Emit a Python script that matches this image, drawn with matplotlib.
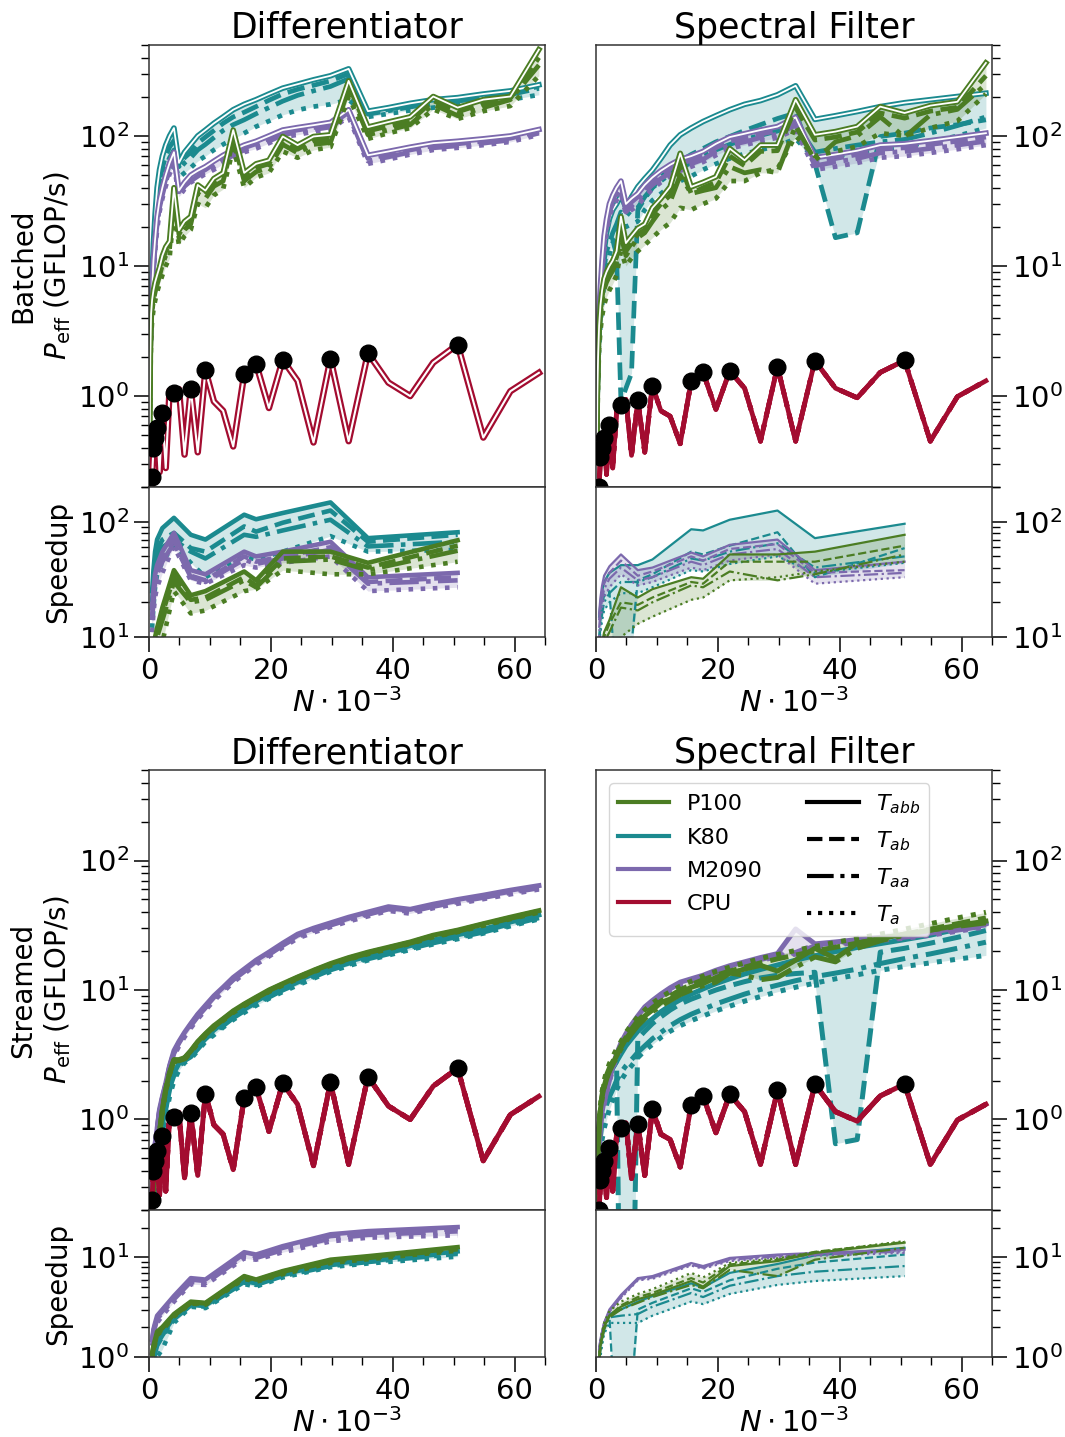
import numpy as np
import matplotlib.pyplot as plt
from matplotlib.lines import Line2D
from matplotlib.ticker import LogLocator, NullFormatter, MultipleLocator

# problem size N*10^-3 (N = n^3 for n = 4..40)
n_k = [0.064, 0.125, 0.216, 0.343, 0.512, 0.729, 1.0, 1.331, 1.728, 2.197, 2.744, 3.375,
       4.096, 4.913, 5.832, 6.859, 8.0, 9.261, 10.648, 12.167, 13.824, 15.625, 17.576,
       19.683, 21.952, 24.389, 27.0, 29.791, 32.768, 35.937, 39.304, 42.875, 46.656,
       50.653, 54.872, 59.319, 64.0]
# sizes marked with black dots (speedup is evaluated there)
best_k = [0.512, 0.729, 1.0, 1.331, 2.197, 4.096, 6.859, 9.261, 15.625, 17.576,
          21.952, 29.791, 35.937, 50.653]

# CPU performance (GFLOP/s)
cpu_diff = [0.05, 0.08, 0.12, 0.17, 0.24, 0.40, 0.48, 0.57, 0.26, 0.74, 0.28, 1.10, 1.05,
            1.13, 0.355, 1.13, 0.37, 1.58, 0.91, 0.77, 0.41, 1.47, 1.77, 0.81, 1.90, 1.31,
            0.44, 1.94, 0.45, 2.14, 1.27, 1.00, 1.81, 2.49, 0.48, 1.09, 1.51]
cpu_spec = [0.04, 0.07, 0.11, 0.15, 0.20, 0.34, 0.40, 0.48, 0.25, 0.60, 0.28, 0.75, 0.86,
            0.94, 0.35, 0.93, 0.37, 1.20, 0.77, 0.70, 0.43, 1.30, 1.52, 0.79, 1.56, 1.15,
            0.45, 1.68, 0.45, 1.87, 1.15, 0.97, 1.52, 1.88, 0.45, 0.99, 1.31]

# ---- batched, differentiator ----
tl_k80_abb = [1.0, 2.0, 3.0, 4.5, 8.5, 15, 25, 40, 55, 70, 85, 100, 115, 62, 75, 86, 100, 111, 125,
              140, 159, 175, 190, 210, 233, 250, 270, 290, 328, 155, 165, 178, 190, 197, 210, 222, 247]
tl_k80_ab = [0.9, 1.8, 2.7, 4.0, 7.5, 13, 21, 33, 45, 57, 70, 82, 92, 58, 68, 75, 88, 98, 110,
             125, 140, 152, 168, 188, 210, 228, 245, 265, 300, 150, 160, 172, 183, 190, 203, 215, 240]
tl_k80_aa = [0.8, 1.6, 2.4, 3.6, 6.5, 11, 18, 28, 38, 48, 58, 68, 78, 55, 62, 68, 78, 86, 97,
             110, 122, 133, 148, 165, 185, 205, 222, 240, 275, 147, 156, 167, 178, 185, 197, 208, 232]
tl_k80_a = [0.7, 1.4, 2.0, 3.0, 5.5, 9, 14, 22, 30, 38, 46, 54, 62, 48, 52, 57, 64, 70, 78,
            86, 95, 105, 118, 130, 145, 158, 168, 175, 190, 140, 148, 157, 165, 172, 182, 190, 207]
tl_m2090_abb = [0.8, 1.6, 2.5, 4.0, 6.5, 11, 16, 24, 32, 40, 50, 62, 75, 38, 44, 50, 54, 58, 64,
                71, 78, 85, 91, 100, 111, 116, 121, 127, 159, 71, 76, 82, 88, 91, 95, 100, 112]
tl_m2090_ab = [0.75, 1.5, 2.3, 3.7, 6.0, 10, 15, 22, 30, 37, 47, 58, 70, 36, 42, 47, 51, 55, 61,
               67, 74, 81, 87, 95, 106, 111, 116, 121, 152, 67, 72, 78, 84, 87, 91, 96, 108]
tl_m2090_aa = [0.7, 1.4, 2.2, 3.5, 5.5, 9.3, 14, 21, 28, 35, 44, 55, 66, 35, 41, 45, 49, 53, 58,
               64, 71, 78, 84, 91, 102, 107, 112, 117, 146, 64, 69, 75, 81, 84, 88, 93, 105]
tl_m2090_a = [0.6, 1.2, 2.0, 3.1, 5.0, 8.5, 13, 19, 26, 33, 41, 51, 60, 34, 39, 44, 47, 51, 55,
              61, 68, 75, 80, 88, 98, 102, 108, 113, 140, 61, 66, 72, 78, 81, 85, 90, 102]
tl_p100_abb = [0.1, 0.5, 2.0, 4.3, 5.5, 6.5, 7.5, 8.5, 9.8, 12, 14, 15.5, 40, 18.8, 22, 24, 42, 38,
               47, 52, 111, 52, 61, 65, 99, 85, 99, 102, 265, 117, 128, 140, 201, 165, 190, 201, 461]
tl_p100_ab = [0.08, 0.4, 1.8, 3.9, 4.9, 5.9, 6.8, 7.8, 9.0, 11, 13, 14.5, 36, 17.5, 20.5, 22.5, 39,
              35, 44, 48, 100, 48, 57, 61, 92, 79, 92, 95, 245, 109, 119, 130, 187, 153, 177, 195, 400]
tl_p100_aa = [0.07, 0.35, 1.6, 3.5, 4.5, 5.4, 6.3, 7.2, 8.4, 10.2, 12, 13.5, 33, 16.4, 19, 21, 36,
              33, 41, 45, 93, 45, 53, 57, 86, 74, 86, 89, 230, 102, 111, 122, 175, 143, 165, 190, 350]
tl_p100_a = [0.05, 0.25, 1.2, 2.8, 3.8, 4.6, 5.4, 6.3, 7.3, 8.5, 10, 11.5, 27, 14.5, 17, 19, 30,
             28, 35, 39, 80, 40, 48, 52, 76, 68, 78, 82, 200, 95, 105, 115, 160, 135, 155, 170, 290]

# ---- batched, spectral filter ----
tr_k80_abb = [0.1, 0.4, 1.2, 2.2, 3.5, 5.5, 8.5, 13, 18, 23, 27, 30, 35, 28, 34, 40.6, 47, 54.6,
              67, 85, 102, 115, 129, 143, 159, 175, 187, 207, 243, 134, 143, 154, 168, 180, 190, 201, 213]
tr_k80_ab = [0.08, 0.3, 1.0, 1.8, 3.0, 4.5, 7, 11, 14, 15, 16, 12, 0.9, 1.15, 1.5, 27, 33, 40,
             48, 56, 64, 72, 80, 90, 99, 110, 122, 136, 150, 61, 16.5, 18, 99, 105, 115, 122, 133]
tr_k80_aa = [0.08, 0.3, 0.9, 1.8, 2.8, 4.3, 6.5, 9.5, 13, 15, 18, 21, 26, 24, 27, 28, 34, 40,
             45, 51, 57, 62, 70, 78, 86, 94, 101, 109, 125, 75, 80, 85, 90, 94, 105, 120, 140]
tr_k80_a = [0.06, 0.25, 0.7, 1.5, 2.4, 3.5, 5, 7.5, 10, 12, 15, 18, 21, 20, 21, 22, 27, 32,
            36, 41, 45, 49, 55, 61, 67, 73, 78, 84, 95, 67, 70, 74, 79, 83, 90, 100, 115]
tr_m2090_abb = [0.1, 0.5, 1.5, 2.7, 4.5, 7, 11, 17, 23, 30, 35, 40, 45, 30, 33, 36, 42, 48, 54,
                60, 66, 70, 76, 87, 98, 104, 111, 118, 139, 68, 72, 77, 85, 87, 92, 98, 105]
tr_m2090_ab = [0.09, 0.45, 1.4, 2.5, 4.2, 6.5, 10, 15.5, 21, 27.5, 32, 37, 42, 28, 31, 34, 39, 45,
               50, 56, 61, 65, 71, 81, 91, 97, 103, 110, 130, 63, 67, 72, 79, 81, 86, 91, 98]
tr_m2090_aa = [0.09, 0.42, 1.3, 2.3, 3.9, 6.1, 9.5, 14.5, 20, 26, 30, 35, 39, 26, 29, 32, 37, 42,
               47, 52, 57, 61, 66, 76, 85, 90, 97, 103, 121, 59, 63, 67, 74, 76, 80, 85, 91]
tr_m2090_a = [0.08, 0.4, 1.2, 2.2, 3.6, 5.5, 8.5, 13, 18, 24, 28, 32, 36, 25, 27, 29, 34, 39,
              44, 49, 54, 58, 63, 71, 80, 85, 91, 97, 112, 55, 58, 62, 68, 70, 74, 79, 85]
tr_p100_abb = [0.1, 0.3, 1.0, 2.0, 3.5, 5, 6.5, 8, 9, 10, 11, 13, 24, 15, 17, 19.5, 21, 28, 33,
               40.6, 73.5, 40.6, 44, 48.5, 80, 65, 85, 85, 190, 102, 108, 118, 168, 150, 171, 183, 364]
tr_p100_ab = [0.09, 0.27, 0.9, 1.8, 3.2, 4.5, 5.8, 7.2, 8.1, 9, 10, 11.7, 20, 13, 15, 17.5, 19, 25,
              30, 35, 60, 36, 40, 44, 70, 59, 76, 77, 165, 93, 98, 107, 150, 137, 155, 166, 290]
tr_p100_aa = [0.08, 0.25, 0.8, 1.6, 2.9, 4.2, 5.4, 6.6, 7.5, 8.3, 9.2, 10.8, 17, 12, 14, 16.5, 18,
              22, 27, 31, 50, 36, 38, 40, 58, 52, 55, 52, 120, 65, 90, 100, 140, 98, 145, 160, 250]
tr_p100_a = [0.05, 0.2, 0.6, 1.3, 2.3, 3.2, 4.1, 5, 5.8, 6.5, 7.3, 8.5, 13, 10, 11.5, 13, 14.5,
             16.5, 19, 21.5, 28, 27, 30, 33, 45, 45, 52, 56, 100, 70, 76, 83, 105, 100, 115, 130, 210]

# ---- streamed, differentiator ----
bl_k80_abb = [0.01, 0.03, 0.06, 0.12, 0.2, 0.3, 0.4, 0.5, 0.6, 0.9, 1.3, 1.8, 2.3, 2.7, 3.0, 3.2,
              3.7, 4.3, 4.9, 5.6, 6.4, 7.3, 8.2, 9.3, 10.5, 11.8, 13.3, 15, 16.6, 18.3, 20, 22,
              24.3, 26.7, 29.5, 33.5, 38]
bl_k80_ab = [0.01, 0.03, 0.06, 0.11, 0.19, 0.29, 0.38, 0.48, 0.58, 0.87, 1.25, 1.75, 2.2, 2.6,
             2.9, 3.1, 3.6, 4.2, 4.8, 5.4, 6.2, 7.1, 8.0, 9.0, 10.2, 11.5, 12.9, 14.6, 16.1, 17.8,
             19.4, 21.4, 23.6, 25.9, 28.6, 32.5, 37]
bl_k80_aa = [0.01, 0.02, 0.05, 0.1, 0.18, 0.27, 0.36, 0.45, 0.55, 0.82, 1.2, 1.7, 2.15, 2.55,
             2.85, 3.05, 3.5, 4.1, 4.65, 5.3, 6.1, 6.9, 7.8, 8.8, 10, 11.2, 12.6, 14.3, 15.8, 17.4,
             19, 20.9, 23.1, 25.4, 28, 31.8, 36.1]
bl_k80_a = [0.01, 0.02, 0.04, 0.08, 0.14, 0.2, 0.28, 0.36, 0.45, 0.7, 1.05, 1.5, 2.0, 2.4, 2.75,
            2.95, 3.4, 4.0, 4.5, 5.15, 5.9, 6.7, 7.6, 8.6, 9.7, 10.9, 12.3, 13.9, 15.4, 17, 18.6,
            20.5, 22.6, 24.8, 27.4, 31.2, 35.3]
bl_m2090_abb = [0.02, 0.05, 0.1, 0.18, 0.3, 0.45, 0.65, 0.85, 1.2, 1.5, 1.9, 2.6, 3.4, 4.0, 4.7,
                5.5, 6.5, 7.6, 9.0, 10.5, 12.5, 14.5, 17, 19.6, 23, 27, 30, 33, 36.5, 40, 44, 42,
                46, 50, 54, 59, 64]
bl_m2090_ab = [0.02, 0.05, 0.1, 0.17, 0.29, 0.44, 0.63, 0.83, 1.17, 1.47, 1.86, 2.55, 3.3, 3.9,
               4.6, 5.4, 6.4, 7.4, 8.8, 10.3, 12.2, 14.2, 16.7, 19.2, 22.5, 26.5, 29.4, 32.3, 35.8,
               39.2, 43.1, 41.2, 45.1, 49, 52.9, 57.8, 62.7]
bl_m2090_aa = [0.02, 0.05, 0.1, 0.17, 0.29, 0.43, 0.62, 0.82, 1.15, 1.44, 1.82, 2.5, 3.25, 3.85,
               4.5, 5.3, 6.25, 7.3, 8.6, 10.1, 12, 13.9, 16.3, 18.8, 22.1, 25.9, 28.8, 31.7, 35,
               38.4, 42.2, 40.3, 44.2, 48, 51.8, 56.6, 61.4]
bl_m2090_a = [0.02, 0.04, 0.09, 0.16, 0.27, 0.41, 0.59, 0.78, 1.1, 1.38, 1.75, 2.4, 3.1, 3.7,
              4.35, 5.1, 6.0, 7.0, 8.3, 9.7, 11.5, 13.4, 15.8, 18.2, 21.4, 25.1, 27.9, 30.7, 34,
              37.2, 41, 39, 43, 46.5, 50.5, 55, 60]
bl_p100_abb = [0.02, 0.04, 0.08, 0.15, 0.22, 0.3, 0.4, 0.55, 0.8, 1.2, 1.7, 2.3, 2.9, 2.9, 3.0,
               3.4, 4.0, 4.6, 5.3, 6.0, 6.9, 7.8, 8.8, 10, 11.2, 12.6, 14.2, 16, 17.8, 19.6, 21.4,
               23.5, 26.5, 29, 32.5, 36.5, 41]
bl_p100_ab = [0.02, 0.04, 0.08, 0.15, 0.22, 0.3, 0.4, 0.54, 0.79, 1.19, 1.68, 2.28, 2.87, 2.87,
              2.97, 3.37, 3.96, 4.55, 5.25, 5.94, 6.83, 7.72, 8.7, 9.9, 11.1, 12.5, 14.1, 15.8,
              17.6, 19.4, 21.2, 23.3, 26.2, 28.7, 32.2, 36.1, 40.6]
bl_p100_aa = [0.02, 0.04, 0.08, 0.15, 0.22, 0.29, 0.39, 0.54, 0.78, 1.18, 1.67, 2.25, 2.84, 2.84,
              2.94, 3.33, 3.92, 4.5, 5.2, 5.9, 6.76, 7.64, 8.62, 9.8, 11, 12.3, 13.9, 15.7, 17.4,
              19.2, 21, 23, 26, 28.4, 31.9, 35.8, 40.2]
bl_p100_a = [0.02, 0.04, 0.08, 0.14, 0.21, 0.29, 0.39, 0.53, 0.77, 1.16, 1.65, 2.23, 2.81, 2.81,
             2.91, 3.3, 3.88, 4.46, 5.14, 5.82, 6.7, 7.57, 8.54, 9.7, 10.9, 12.2, 13.8, 15.5,
             17.3, 19, 20.8, 22.8, 25.7, 28.1, 31.5, 35.4, 39.8]

# ---- streamed, spectral filter ----
br_k80_abb = [0.04, 0.1, 0.25, 0.5, 0.8, 1.1, 1.35, 1.6, 1.9, 2.2, 2.5, 2.8, 3.2, 3.7, 4.2, 4.8,
              5.4, 6.0, 6.8, 7.6, 8.4, 9.3, 10.2, 11.2, 12.2, 13.3, 14.4, 15.6, 17, 18.4, 19.8,
              21.3, 22.8, 24.5, 26.5, 29.5, 33]
br_k80_ab = [0.05, 0.12, 0.3, 0.55, 0.85, 1.1, 1.4, 1.65, 1.9, 2.2, 2.5, 2.8, 0.005, 0.005, 0.005,
             4.2, 4.8, 5.5, 6.2, 7.0, 7.8, 8.5, 9.2, 10, 10.8, 11.6, 12.4, 13, 13.4, 13.7, 0.65,
             0.7, 19.6, 21, 23, 25.5, 28.8]
br_k80_aa = [0.03, 0.07, 0.18, 0.35, 0.55, 0.75, 0.95, 1.1, 1.3, 1.5, 1.7, 2.0, 2.3, 2.6, 2.9,
             3.3, 3.7, 4.2, 4.7, 5.3, 5.9, 6.5, 7.1, 7.8, 8.5, 9.3, 10.1, 10.9, 11.8, 12.7, 13.5,
             14.5, 16, 17.5, 19, 21, 23.4]
br_k80_a = [0.02, 0.05, 0.12, 0.25, 0.4, 0.55, 0.7, 0.85, 1.0, 1.2, 1.4, 1.7, 2.0, 2.3, 2.6,
            3.0, 3.4, 3.8, 4.3, 4.8, 5.3, 5.8, 6.3, 6.9, 7.5, 8.2, 8.9, 9.7, 10.5, 11.3, 12.2,
            13.1, 14.2, 15.2, 16.2, 17.3, 18.5]
br_m2090_abb = [0.03, 0.08, 0.2, 0.4, 0.65, 0.9, 1.15, 1.4, 1.7, 2.1, 2.6, 3.2, 3.9, 4.6, 5.4,
                6.3, 7.4, 8.3, 9.3, 10.4, 11.5, 12.2, 13, 14.2, 15.4, 16.5, 17.8, 19.1, 29.6,
                22.7, 23.5, 24.5, 25.5, 26.5, 28, 30, 32.4]
br_m2090_ab = [0.03, 0.08, 0.19, 0.39, 0.63, 0.88, 1.12, 1.37, 1.66, 2.05, 2.55, 3.1, 3.8, 4.5,
               5.3, 6.2, 7.2, 8.1, 9.1, 10.2, 11.3, 12, 12.8, 14, 15.1, 16.2, 17.5, 18.8, 19.5,
               22.3, 23.1, 24.1, 25.1, 26.1, 27.5, 29.5, 31.9]
br_m2090_aa = [0.03, 0.08, 0.19, 0.38, 0.62, 0.86, 1.1, 1.34, 1.63, 2.0, 2.5, 3.05, 3.7, 4.4,
               5.2, 6.1, 7.1, 7.9, 8.9, 10, 11.1, 11.8, 12.6, 13.7, 14.8, 15.9, 17.2, 18.4, 19.2,
               21.9, 22.7, 23.6, 24.6, 25.6, 27, 29, 31.3]
br_m2090_a = [0.03, 0.07, 0.18, 0.37, 0.6, 0.84, 1.08, 1.3, 1.6, 1.97, 2.45, 3.0, 3.65, 4.3, 5.1,
              5.95, 6.95, 7.8, 8.7, 9.8, 10.9, 11.6, 12.4, 13.5, 14.6, 15.6, 16.9, 18.1, 18.9,
              21.5, 22.3, 23.2, 24.2, 25.1, 26.5, 28.4, 30.7]
br_p100_abb = [0.05, 0.12, 0.3, 0.6, 0.9, 1.2, 1.5, 1.8, 2.1, 2.4, 2.7, 3.1, 3.6, 4.2, 4.8, 5.6,
               6.3, 7.0, 8.0, 8.5, 9.5, 10.5, 11.2, 12.5, 13.5, 14.5, 15.5, 14, 17, 21, 17.5, 23,
               25, 27, 29, 31.5, 34]
br_p100_ab = [0.05, 0.12, 0.3, 0.6, 0.95, 1.25, 1.55, 1.9, 2.2, 2.5, 2.8, 3.2, 3.7, 4.3, 5.0,
              5.8, 6.5, 7.3, 8.2, 9.0, 10.0, 11.0, 12.0, 13.0, 14.0, 15.0, 16.2, 17.4, 18.6, 20,
              21.4, 23, 25, 27, 29.5, 32.5, 36]
br_p100_aa = [0.04, 0.11, 0.28, 0.55, 0.85, 1.15, 1.45, 1.75, 2.05, 2.35, 2.65, 3.0, 3.5, 4.0,
              4.6, 5.3, 6.0, 6.8, 7.5, 8.3, 9.2, 10.0, 10.8, 11.5, 13.5, 13.0, 12.0, 12.5, 15, 18,
              16.5, 21, 24, 26.5, 29, 31, 33]
br_p100_a = [0.06, 0.14, 0.35, 0.65, 1.0, 1.3, 1.65, 2.0, 2.35, 2.7, 3.05, 3.5, 4.0, 4.7, 5.4,
             6.2, 7.0, 7.9, 8.8, 9.7, 10.7, 11.7, 12.8, 13.9, 15.0, 16.2, 17.5, 18.8, 20.2, 21.7,
             23.3, 25, 27, 29.5, 32.5, 36, 39.8]

# ---- speedups at the dotted sizes ----
su_tl_k80_abb = [25, 38, 55, 70, 88, 108, 77, 70, 115, 105, 119, 147, 72, 81]
su_tl_k80_ab = [20, 30, 44, 56, 70, 80, 59, 55, 91, 82, 98, 125, 67, 77]
su_tl_k80_aa = [17, 26, 38, 48, 60, 70, 55, 48, 77, 74, 84, 104, 61, 67]
su_tl_k80_a = [12, 18, 27, 35, 45, 63, 44, 33, 50, 47, 55, 75, 55, 57]
su_tl_m2090_abb = [18, 26, 35, 42, 55, 80, 38, 35, 55, 50, 55, 67, 33, 36]
su_tl_m2090_ab = [15, 22, 30, 37, 48, 70, 34, 31, 50, 45, 50, 60, 30, 33]
su_tl_m2090_aa = [14, 20, 28, 35, 45, 65, 33, 30, 47, 43, 48, 57, 29, 31]
su_tl_m2090_a = [11, 16, 22, 27, 36, 61, 31, 29, 42, 40, 44, 50, 25, 27]
su_tl_p100_abb = [5, 7, 10, 12, 18, 38, 23, 25, 37, 31, 55, 55, 44, 69]
su_tl_p100_ab = [4.5, 6.5, 9, 11, 16, 33, 21, 22, 33, 28, 48, 50, 40, 62]
su_tl_p100_aa = [4, 6, 8, 10, 14, 30, 20, 21, 31, 27, 45, 47, 38, 56]
su_tl_p100_a = [3, 4, 5, 6, 9, 25, 16, 17, 25, 26, 38, 35, 35, 45]

su_tr_k80_abb = [15, 20, 25, 30, 36, 42, 42, 47, 86, 84, 104, 125, 72, 96]
su_tr_k80_ab = [10, 14, 19, 23, 25, 1.0, 31, 35, 55, 52, 62, 81, 33, 59]
su_tr_k80_aa = [9, 12, 16, 20, 24, 30, 30, 33, 48, 46, 55, 65, 40, 50]
su_tr_k80_a = [8, 11, 14, 17, 20, 24, 24, 27, 38, 37, 43, 50, 36, 44]
su_tr_m2090_abb = [16, 22, 28, 34, 41, 52, 38, 40, 54, 50, 63, 70, 38, 45]
su_tr_m2090_ab = [14, 19, 24, 29, 36, 46, 34, 37, 50, 46, 58, 64, 36, 38]
su_tr_m2090_aa = [12, 17, 21, 26, 32, 40, 31, 33, 45, 42, 52, 58, 33, 36]
su_tr_m2090_a = [10, 14, 18, 22, 27, 35, 28, 30, 40, 38, 46, 52, 29, 33]
su_tr_p100_abb = [5, 7, 9, 11, 14, 27, 22, 26, 33, 32, 52, 52, 55, 77]
su_tr_p100_ab = [4.5, 6, 8, 10, 13, 20, 19, 22, 30, 29, 45, 45, 45, 62]
su_tr_p100_aa = [4, 5.5, 7, 9, 11, 18, 17, 20, 28, 27, 37, 31, 35, 52]
su_tr_p100_a = [2, 3, 4, 5, 7, 10, 13, 15, 21, 22, 31, 33, 37, 45]

su_bl_k80_abb = [0.9, 1.0, 1.2, 1.4, 1.7, 2.5, 3.4, 3.3, 5.8, 5.5, 6.8, 8.6, 9.4, 11.5]
su_bl_k80_ab = [0.85, 0.95, 1.15, 1.35, 1.65, 2.45, 3.35, 3.25, 5.7, 5.4, 6.7, 8.4, 9.2, 11.2]
su_bl_k80_aa = [0.8, 0.9, 1.1, 1.3, 1.6, 2.4, 3.3, 3.2, 5.6, 5.3, 6.5, 8.2, 9.0, 10.9]
su_bl_k80_a = [0.6, 0.7, 0.8, 1.0, 1.2, 2.2, 3.2, 3.1, 5.4, 5.1, 6.3, 8.0, 8.7, 10.2]
su_bl_m2090_abb = [1.5, 1.9, 2.2, 2.6, 3.0, 4.1, 6.2, 6.0, 11.3, 10.7, 13, 17.1, 18.4, 20.2]
su_bl_m2090_ab = [1.45, 1.8, 2.1, 2.5, 2.9, 3.95, 6.0, 5.8, 10.9, 10.3, 12.5, 16.4, 17.6, 19.3]
su_bl_m2090_aa = [1.4, 1.75, 2.0, 2.4, 2.8, 3.8, 5.7, 5.5, 10.4, 9.9, 11.9, 15.5, 16.9, 18.3]
su_bl_m2090_a = [1.3, 1.6, 1.9, 2.2, 2.6, 3.6, 5.4, 5.3, 9.8, 9.5, 11.3, 14.5, 15.8, 16.7]
su_bl_p100_abb = [1.1, 1.3, 1.5, 1.8, 2.0, 2.7, 3.6, 3.5, 6.5, 6.0, 7.3, 9.5, 10.3, 12.7]
su_bl_p100_ab = [1.05, 1.25, 1.45, 1.75, 1.95, 2.65, 3.55, 3.45, 6.4, 5.9, 7.2, 9.3, 10.1, 12.4]
su_bl_p100_aa = [1.0, 1.2, 1.4, 1.7, 1.9, 2.6, 3.5, 3.4, 6.3, 5.8, 7.0, 9.1, 9.9, 12.1]
su_bl_p100_a = [0.95, 1.15, 1.35, 1.65, 1.85, 2.55, 3.45, 3.35, 6.1, 5.7, 6.8, 8.8, 9.6, 11.7]

su_br_k80_abb = [1.0, 1.3, 1.7, 2.1, 2.7, 3.0, 3.6, 4.1, 5.5, 5.0, 7.0, 8.6, 10.5, 12.5]
su_br_k80_ab = [1.0, 1.3, 1.6, 2.0, 2.6, 0.02, 3.0, 3.5, 4.9, 4.5, 5.9, 7.7, 8.9, 10.7]
su_br_k80_aa = [0.9, 1.2, 1.5, 1.9, 2.5, 2.6, 2.7, 3.2, 4.4, 4.0, 5.2, 6.5, 7.2, 8.2]
su_br_k80_a = [0.8, 1.0, 1.3, 1.7, 2.2, 2.2, 2.2, 2.6, 3.6, 3.4, 4.3, 5.3, 5.8, 6.5]
su_br_m2090_abb = [1.2, 1.5, 1.8, 2.2, 3.0, 4.2, 6.2, 6.5, 8.8, 8.2, 9.9, 10.7, 11.1, 12.0]
su_br_m2090_ab = [1.2, 1.5, 1.8, 2.2, 2.9, 4.1, 6.1, 6.4, 8.6, 8.0, 9.7, 10.5, 10.9, 11.8]
su_br_m2090_aa = [1.15, 1.45, 1.75, 2.1, 2.85, 4.0, 6.0, 6.3, 8.5, 7.9, 9.5, 10.3, 10.7, 11.5]
su_br_m2090_a = [1.1, 1.4, 1.7, 2.0, 2.8, 3.9, 5.9, 6.1, 8.3, 7.7, 9.2, 10.0, 10.4, 11.1]
su_br_p100_abb = [1.0, 1.3, 1.6, 2.0, 2.6, 3.2, 3.8, 4.2, 5.8, 5.1, 8.2, 9.2, 11.1, 14.1]
su_br_p100_ab = [1.0, 1.3, 1.6, 2.0, 2.6, 3.3, 4.0, 4.4, 6.2, 5.6, 8.5, 9.5, 11.4, 14.3]
su_br_p100_aa = [0.9, 1.2, 1.5, 1.9, 2.5, 3.0, 3.5, 4.0, 5.3, 4.9, 7.5, 6.5, 9.5, 12.5]
su_br_p100_a = [1.1, 1.4, 1.8, 2.2, 2.9, 3.6, 4.3, 4.8, 7.0, 6.3, 8.8, 9.8, 11.3, 14.6]

gpus = ['K80', 'M2090', 'P100']
colors = {'P100': '#4b7d23', 'K80': '#1b8a8f', 'M2090': '#7c69ad', 'CPU': '#a30c30'}
styles = ['-', '--', '-.', ':']
style_labels = [r'$T_{abb}$', r'$T_{ab}$', r'$T_{aa}$', r'$T_{a}$']

perf = {
    'tl': {'K80': [tl_k80_abb, tl_k80_ab, tl_k80_aa, tl_k80_a],
           'M2090': [tl_m2090_abb, tl_m2090_ab, tl_m2090_aa, tl_m2090_a],
           'P100': [tl_p100_abb, tl_p100_ab, tl_p100_aa, tl_p100_a]},
    'tr': {'K80': [tr_k80_abb, tr_k80_ab, tr_k80_aa, tr_k80_a],
           'M2090': [tr_m2090_abb, tr_m2090_ab, tr_m2090_aa, tr_m2090_a],
           'P100': [tr_p100_abb, tr_p100_ab, tr_p100_aa, tr_p100_a]},
    'bl': {'K80': [bl_k80_abb, bl_k80_ab, bl_k80_aa, bl_k80_a],
           'M2090': [bl_m2090_abb, bl_m2090_ab, bl_m2090_aa, bl_m2090_a],
           'P100': [bl_p100_abb, bl_p100_ab, bl_p100_aa, bl_p100_a]},
    'br': {'K80': [br_k80_abb, br_k80_ab, br_k80_aa, br_k80_a],
           'M2090': [br_m2090_abb, br_m2090_ab, br_m2090_aa, br_m2090_a],
           'P100': [br_p100_abb, br_p100_ab, br_p100_aa, br_p100_a]},
}
speedup = {
    'tl': {'K80': [su_tl_k80_abb, su_tl_k80_ab, su_tl_k80_aa, su_tl_k80_a],
           'M2090': [su_tl_m2090_abb, su_tl_m2090_ab, su_tl_m2090_aa, su_tl_m2090_a],
           'P100': [su_tl_p100_abb, su_tl_p100_ab, su_tl_p100_aa, su_tl_p100_a]},
    'tr': {'K80': [su_tr_k80_abb, su_tr_k80_ab, su_tr_k80_aa, su_tr_k80_a],
           'M2090': [su_tr_m2090_abb, su_tr_m2090_ab, su_tr_m2090_aa, su_tr_m2090_a],
           'P100': [su_tr_p100_abb, su_tr_p100_ab, su_tr_p100_aa, su_tr_p100_a]},
    'bl': {'K80': [su_bl_k80_abb, su_bl_k80_ab, su_bl_k80_aa, su_bl_k80_a],
           'M2090': [su_bl_m2090_abb, su_bl_m2090_ab, su_bl_m2090_aa, su_bl_m2090_a],
           'P100': [su_bl_p100_abb, su_bl_p100_ab, su_bl_p100_aa, su_bl_p100_a]},
    'br': {'K80': [su_br_k80_abb, su_br_k80_ab, su_br_k80_aa, su_br_k80_a],
           'M2090': [su_br_m2090_abb, su_br_m2090_ab, su_br_m2090_aa, su_br_m2090_a],
           'P100': [su_br_p100_abb, su_br_p100_ab, su_br_p100_aa, su_br_p100_a]},
}
dot_idx = [n_k.index(v) for v in best_k]


def setup_axes(ax, side, bottom, ylim):
    ax.set_yscale('log')
    ax.set_xlim(0, 65)
    ax.set_ylim(*ylim)
    if side == 'right':
        ax.yaxis.tick_right()
    else:
        ax.yaxis.tick_left()
    ax.yaxis.set_major_locator(LogLocator(base=10, numticks=10))
    ax.yaxis.set_minor_locator(LogLocator(base=10, subs=np.arange(2, 10), numticks=10))
    ax.yaxis.set_minor_formatter(NullFormatter())
    ax.tick_params(axis='y', which='major', direction='out', length=11, width=1.1, labelsize=21)
    ax.tick_params(axis='y', which='minor', direction='out', length=6, width=1.0)
    if bottom:
        ax.xaxis.set_major_locator(MultipleLocator(20))
        ax.xaxis.set_minor_locator(MultipleLocator(5))
        ax.tick_params(axis='x', which='major', direction='out', length=11, width=1.1,
                       labelsize=21, top=False)
        ax.tick_params(axis='x', which='minor', direction='out', length=6, width=1.0, top=False)
        ax.set_xlabel(r'$N \cdot 10^{-3}$', fontsize=21, labelpad=2)
    else:
        ax.tick_params(axis='x', which='both', bottom=False, top=False, labelbottom=False)
    for s in ax.spines.values():
        s.set_linewidth(1.1)
        s.set_color('#333333')


def draw_perf(ax, data, cpu, lw, double, double_cpu):
    for g in gpus:
        vals = np.array(data[g])
        ax.fill_between(n_k, vals.min(axis=0), vals.max(axis=0), color=colors[g],
                        alpha=0.2, lw=0)
    for g in gpus:
        for v, ls in reversed(list(zip(data[g], styles))):
            if ls == '-' and double:
                ax.plot(n_k, v, color=colors[g], lw=lw + 0.6)
                ax.plot(n_k, v, color='white', lw=1.3)
            else:
                ax.plot(n_k, v, color=colors[g], ls=ls, lw=lw)
    for ls in reversed(styles):
        if ls == '-' and double_cpu:
            ax.plot(n_k, cpu, color=colors['CPU'], lw=lw + 1.3)
            ax.plot(n_k, cpu, color='white', lw=1.5)
        else:
            ax.plot(n_k, cpu, color=colors['CPU'], ls=ls, lw=lw)
    ax.plot([n_k[i] for i in dot_idx], [cpu[i] for i in dot_idx], 'o', color='black',
            ms=12, zorder=10)


def draw_speedup(ax, data, lw):
    for g in gpus:
        vals = np.array(data[g])
        ax.fill_between(best_k, vals.min(axis=0), vals.max(axis=0), color=colors[g],
                        alpha=0.2, lw=0)
    for g in gpus:
        for v, ls in reversed(list(zip(data[g], styles))):
            ax.plot(best_k, v, color=colors[g], ls=ls, lw=lw)


fig = plt.figure(figsize=(10.65, 14.37), dpi=100)
W, H = 1065.0, 1437.0


def rect(x0, y0, x1, y1):
    return [x0 / W, 1 - y1 / H, (x1 - x0) / W, (y1 - y0) / H]


cols = {'l': (149, 545), 'r': (596, 992)}
rows = {'t': (45, 487, 637), 'b': (770, 1210, 1357)}
titles = {'l': 'Differentiator', 'r': 'Spectral Filter'}
row_names = {'t': 'Batched', 'b': 'Streamed'}
speed_lim = {'t': (10, 200), 'b': (1, 30)}

for r in ['t', 'b']:
    for c in ['l', 'r']:
        key = r + c
        x0, x1 = cols[c]
        y0, y1, y2 = rows[r]
        side = 'left' if c == 'l' else 'right'
        axm = fig.add_axes(rect(x0, y0, x1, y1))
        axs = fig.add_axes(rect(x0, y1, x1, y2))
        setup_axes(axm, side, False, (0.2, 500))
        setup_axes(axs, side, True, speed_lim[r])
        cpu = cpu_diff if c == 'l' else cpu_spec
        if r == 't':
            draw_perf(axm, perf[key], cpu, 3.4, True, c == 'l')
        else:
            draw_perf(axm, perf[key], cpu, 3.6, False, False)
        draw_speedup(axs, speedup[key], 3.3 if c == 'l' else 1.6)
        axm.set_title(titles[c], fontsize=25, pad=5)
        if c == 'l':
            axm.set_ylabel(row_names[r] + '\n' + r'$P_{\rm eff}$ (GFLOP/s)', fontsize=20)
            axm.yaxis.set_label_coords(-0.193, 0.5)
            axs.set_ylabel('Speedup', fontsize=20)
            axs.yaxis.set_label_coords(-0.193, 0.5)
        if key == 'br':
            handles = [Line2D([], [], color=colors[g], lw=3) for g in ['P100', 'K80', 'M2090', 'CPU']]
            handles += [Line2D([], [], color='black', ls=s, lw=3) for s in styles]
            labels = ['P100', 'K80', 'M2090', 'CPU'] + style_labels
            axm.legend(handles, labels, ncol=2, loc='upper left', fontsize=16,
                       handlelength=2.3, columnspacing=2.0, borderaxespad=0.6,
                       labelspacing=0.6)

fig.savefig('out.png', dpi=100)
